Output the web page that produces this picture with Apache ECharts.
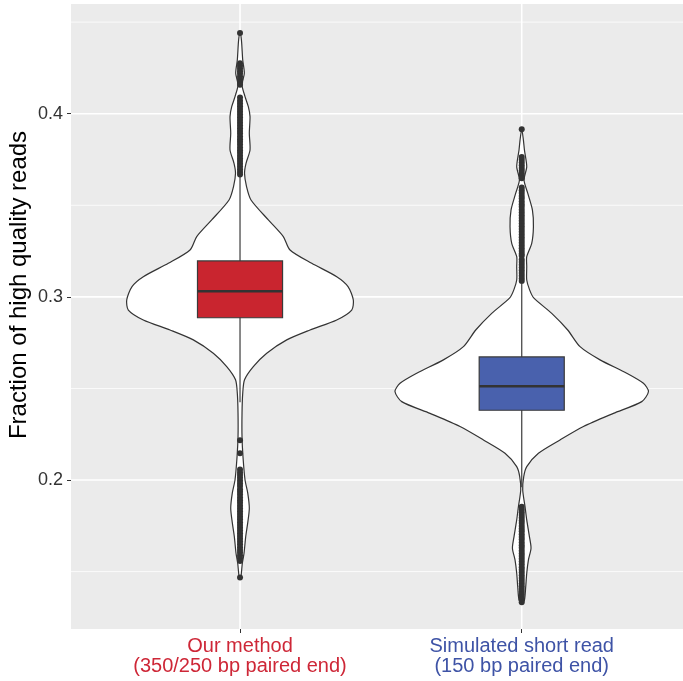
<!DOCTYPE html>
<html>
<head>
<meta charset="utf-8">
<script src="https://cdn.jsdelivr.net/npm/echarts@6/dist/echarts.min.js"></script>
<style>
  html, body { margin: 0; padding: 0; background: #fff; }
  #chart { width: 683px; height: 681px; }
</style>
</head>
<body>
<div id="chart"></div>
<script>
// groups on the x axis
const categories = ['Our method\n(350/250 bp paired end)', 'Simulated short read\n(150 bp paired end)']
const groupX = [1, 2]

// y tick labels / grid values
const majorTicks = [0.2, 0.3, 0.4]
const minorTicks = [0.15, 0.25, 0.35, 0.45]

// boxplot stats: [lower whisker, Q1, median, Q3, upper whisker]
const boxOur = [0.2425, 0.2886, 0.3031, 0.3196, 0.3660]
const boxSim = [0.1960, 0.2381, 0.2512, 0.2672, 0.3070]

// violin outline: [value, half width in x units]
const violinOur = [
  [0.4440, 0], [0.4402, 0.005], [0.4293, 0.0096], [0.4221, 0.0153], [0.4157, 0.0071],
  [0.4093, 0.0178], [0.4038, 0.0295], [0.3984, 0.0355], [0.3893, 0.033], [0.3802, 0.0355],
  [0.3729, 0.0213], [0.3675, 0.016], [0.3602, 0.0231], [0.3529, 0.039], [0.3420, 0.1005],
  [0.3329, 0.1537], [0.3256, 0.1775], [0.3183, 0.2545], [0.3110, 0.3433], [0.3056, 0.3834],
  [0.2983, 0.4022], [0.2928, 0.3965], [0.2874, 0.3433], [0.2819, 0.2485], [0.2765, 0.1658],
  [0.2692, 0.0948], [0.2619, 0.0472], [0.2547, 0.016], [0.2474, 0.0096], [0.2366, 0.0071],
  [0.2235, 0.0071], [0.2126, 0.0106], [0.2000, 0.0178], [0.1930, 0.0273], [0.1846, 0.033],
  [0.1766, 0.0273], [0.1691, 0.0202], [0.1600, 0.0142], [0.1546, 0.0082], [0.1473, 0.0035],
  [0.1460, 0]
]
const violinSim = [
  [0.3915, 0], [0.3856, 0.006], [0.3802, 0.0096], [0.3711, 0.0178], [0.3638, 0.0082],
  [0.3566, 0.0213], [0.3474, 0.038], [0.3383, 0.0415], [0.3292, 0.0355], [0.3219, 0.0178],
  [0.3165, 0.0178], [0.3092, 0.0178], [0.3038, 0.028], [0.2994, 0.0426], [0.2910, 0.1065],
  [0.2819, 0.1633], [0.2728, 0.207], [0.2656, 0.278], [0.2583, 0.3727], [0.2528, 0.432],
  [0.2483, 0.450], [0.2428, 0.426], [0.2364, 0.3255], [0.2292, 0.219], [0.2219, 0.136],
  [0.2146, 0.0593], [0.2073, 0.0178], [0.2019, 0.0071], [0.1946, 0.0035], [0.1855, 0.0117],
  [0.1782, 0.0178], [0.1691, 0.0273], [0.1628, 0.033], [0.1564, 0.0238], [0.1491, 0.0178],
  [0.1418, 0.0142], [0.1345, 0.0096], [0.1327, 0]
]

// outlier points
const outliersOur = [
  0.4441, 0.4275, 0.4262, 0.4247, 0.4232, 0.4219, 0.4203, 0.4188, 0.4172, 0.4158,
  0.4088, 0.4070, 0.4055, 0.4041, 0.4026, 0.4010, 0.3995, 0.3981, 0.3966, 0.3950,
  0.3936, 0.3921, 0.3905, 0.3892, 0.3876, 0.3861, 0.3847, 0.3832, 0.3816, 0.3801,
  0.3787, 0.3771, 0.3756, 0.3742, 0.3726, 0.3711, 0.3697, 0.3682, 0.3668,
  0.2217, 0.2146, 0.2058, 0.2041, 0.2027, 0.2012, 0.1996, 0.1981, 0.1967, 0.1950,
  0.1936, 0.1921, 0.1905, 0.1890, 0.1876, 0.1860, 0.1845, 0.1829, 0.1815, 0.1800,
  0.1786, 0.1770, 0.1755, 0.1739, 0.1724, 0.1710, 0.1694, 0.1679, 0.1664, 0.1650,
  0.1633, 0.1618, 0.1604, 0.1588, 0.1573, 0.1558, 0.1468
]
const outliersSim = [
  0.3915, 0.3763, 0.3749, 0.3734, 0.3719, 0.3704, 0.3690, 0.3675, 0.3661, 0.3648,
  0.3597, 0.3582, 0.3567, 0.3551, 0.3537, 0.3521, 0.3506, 0.3492, 0.3476, 0.3461,
  0.3446, 0.3431, 0.3416, 0.3400, 0.3386, 0.3371, 0.3356, 0.3340, 0.3326, 0.3311,
  0.3296, 0.3281, 0.3265, 0.3251, 0.3236, 0.3224, 0.3204, 0.3190, 0.3175, 0.3160,
  0.3145, 0.3130, 0.3115, 0.3100, 0.3086,
  0.1854, 0.1839, 0.1824, 0.1809, 0.1794, 0.1779, 0.1765, 0.1749, 0.1734, 0.1720,
  0.1704, 0.1689, 0.1675, 0.1659, 0.1644, 0.1630, 0.1614, 0.1599, 0.1585, 0.1570,
  0.1555, 0.1540, 0.1524, 0.1510, 0.1495, 0.1480, 0.1465, 0.1450, 0.1435, 0.1420,
  0.1405, 0.1390, 0.1376, 0.1361, 0.1346, 0.1333
]

const labelColors = ['#CE2737', '#3E53A6']
const boxColors = ['#C9252F', '#4961AD']
const violins = [violinOur, violinSim]
const boxes = [boxOur, boxSim]
const FONT = 'Liberation Sans, Arial, Helvetica, sans-serif'

var myChart = echarts.init(document.getElementById('chart'))

// 网格线 (white grid lines drawn over the grey panel)
function gridLineSeries(values, vertical, width) {
  return {
    type: 'custom',
    silent: true,
    z: 1,
    data: values.map(v => [v]),
    renderItem: function (params, api) {
      const cs = params.coordSys
      const v = api.value(0)
      let shape
      if (vertical) {
        const p = api.coord([v, 0.3])
        shape = { x1: p[0], y1: cs.y, x2: p[0], y2: cs.y + cs.height }
      } else {
        const p = api.coord([1, v])
        shape = { x1: cs.x, y1: p[1], x2: cs.x + cs.width, y2: p[1] }
      }
      return { type: 'line', shape: shape, style: { stroke: '#ffffff', lineWidth: width } }
    }
  }
}

let option = {
  animation: false,
  backgroundColor: '#ffffff',
  grid: {
    left: 71,
    right: 0,
    top: 4,
    bottom: 52,
    show: true,
    backgroundColor: '#EBEBEB',
    borderWidth: 0
  },
  xAxis: {
    type: 'value',
    min: 0.4,
    max: 2.5725,
    splitLine: { show: false },
    axisLine: { show: false },
    axisTick: { show: true, customValues: groupX, length: 4, lineStyle: { color: '#333' } },
    axisLabel: {
      customValues: groupX,
      margin: 7,
      formatter: function (v) {
        const i = groupX.indexOf(v)
        if (i < 0) return ''
        const tag = i === 0 ? 'a' : 'b'
        return categories[i].split('\n').map(s => '{' + tag + '|' + s + '}').join('\n')
      },
      rich: {
        a: { color: labelColors[0], fontSize: 20, fontFamily: FONT, lineHeight: 20, align: 'center' },
        b: { color: labelColors[1], fontSize: 20, fontFamily: FONT, lineHeight: 20, align: 'center' }
      }
    }
  },
  yAxis: {
    type: 'value',
    min: 0.11867,
    max: 0.45988,
    splitLine: { show: false },
    axisLine: { show: false },
    axisTick: { show: true, customValues: majorTicks, length: 4, lineStyle: { color: '#333' } },
    axisLabel: {
      customValues: majorTicks,
      margin: 8,
      color: '#333',
      fontSize: 18,
      fontFamily: FONT,
      formatter: v => v.toFixed(1)
    }
  },
  graphic: [
    {
      type: 'text',
      x: 19,
      y: 285,
      rotation: Math.PI / 2,
      style: {
        text: 'Fraction of high quality reads',
        fill: '#000',
        font: '24px ' + FONT,
        textAlign: 'center',
        textVerticalAlign: 'middle'
      }
    }
  ],
  series: [
    gridLineSeries(minorTicks, false, 0.8),
    gridLineSeries(majorTicks, false, 1.6),
    gridLineSeries(groupX, true, 1.6),
    {
      // 小提琴图
      type: 'custom',
      z: 2,
      silent: true,
      data: groupX.map(x => [x]),
      renderItem: function (params, api) {
        const cx = api.value(0)
        const prof = violins[params.dataIndex]
        const pts = []
        prof.forEach(d => pts.push(api.coord([cx + d[1], d[0]])))
        for (let i = prof.length - 1; i >= 0; i--) {
          if (prof[i][1] > 0) pts.push(api.coord([cx - prof[i][1], prof[i][0]]))
        }
        return {
          type: 'polygon',
          shape: { points: pts, smooth: 0.25 },
          style: { fill: '#ffffff', stroke: '#333333', lineWidth: 1.2 }
        }
      }
    },
    {
      // 箱线图
      type: 'custom',
      z: 3,
      silent: true,
      data: groupX.map((x, i) => [x].concat(boxes[i])),
      renderItem: function (params, api) {
        const cx = api.value(0)
        const hw = 0.151
        const lo = api.coord([cx, api.value(1)])
        const q1 = api.coord([cx - hw, api.value(2)])
        const med = api.value(3)
        const q3 = api.coord([cx + hw, api.value(4)])
        const hi = api.coord([cx, api.value(5)])
        const m1 = api.coord([cx - hw, med])
        const m2 = api.coord([cx + hw, med])
        return {
          type: 'group',
          children: [
            { type: 'line', shape: { x1: lo[0], y1: lo[1], x2: hi[0], y2: hi[1] }, style: { stroke: '#4a4a4a', lineWidth: 1.3 } },
            {
              type: 'rect',
              shape: { x: q1[0], y: q3[1], width: q3[0] - q1[0], height: q1[1] - q3[1] },
              style: { fill: boxColors[params.dataIndex], stroke: '#3a3a3a', lineWidth: 1.2 }
            },
            { type: 'line', shape: { x1: m1[0], y1: m1[1], x2: m2[0], y2: m2[1] }, style: { stroke: '#333333', lineWidth: 2.6 } }
          ]
        }
      }
    },
    {
      type: 'scatter',
      z: 4,
      silent: true,
      symbolSize: 6,
      itemStyle: { color: '#333333', opacity: 1 },
      data: outliersOur.map(v => [1, v]).concat(outliersSim.map(v => [2, v]))
    }
  ]
}

myChart.setOption(option)
window.onresize = function () {
  myChart.resize()
}
</script>
</body>
</html>
